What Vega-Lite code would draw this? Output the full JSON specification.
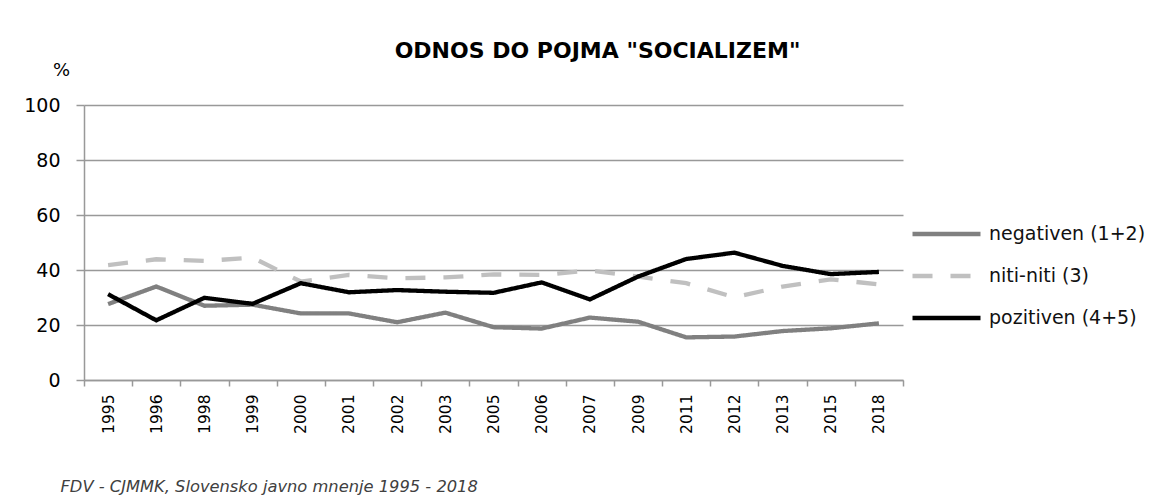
{
  "$schema": "https://vega.github.io/schema/vega-lite/v6.json",
  "autosize": {"type": "none"},
  "padding": {"left": 84, "top": 105, "right": 252, "bottom": 122},
  "width": 819,
  "height": 275,
  "background": "white",
  "title": {
    "text": "ODNOS DO POJMA \"SOCIALIZEM\"",
    "font": "DejaVu Sans",
    "fontSize": 22,
    "fontWeight": "bold",
    "color": "#000000",
    "anchor": "middle",
    "frame": "group",
    "dx": 104,
    "baseline": "alphabetic",
    "offset": -19
  },
  "data": {
    "values": [
      {"year": "1995", "series": "negativen (1+2)", "value": 27.6},
      {"year": "1996", "series": "negativen (1+2)", "value": 34.0},
      {"year": "1998", "series": "negativen (1+2)", "value": 27.0},
      {"year": "1999", "series": "negativen (1+2)", "value": 27.4},
      {"year": "2000", "series": "negativen (1+2)", "value": 24.2},
      {"year": "2001", "series": "negativen (1+2)", "value": 24.2},
      {"year": "2002", "series": "negativen (1+2)", "value": 21.0},
      {"year": "2003", "series": "negativen (1+2)", "value": 24.5},
      {"year": "2005", "series": "negativen (1+2)", "value": 19.2},
      {"year": "2006", "series": "negativen (1+2)", "value": 18.7},
      {"year": "2007", "series": "negativen (1+2)", "value": 22.7},
      {"year": "2009", "series": "negativen (1+2)", "value": 21.2},
      {"year": "2011", "series": "negativen (1+2)", "value": 15.5},
      {"year": "2012", "series": "negativen (1+2)", "value": 15.8},
      {"year": "2013", "series": "negativen (1+2)", "value": 17.8},
      {"year": "2015", "series": "negativen (1+2)", "value": 18.8},
      {"year": "2018", "series": "negativen (1+2)", "value": 20.6},
      {"year": "1995", "series": "niti-niti (3)", "value": 41.8},
      {"year": "1996", "series": "niti-niti (3)", "value": 43.9},
      {"year": "1998", "series": "niti-niti (3)", "value": 43.3},
      {"year": "1999", "series": "niti-niti (3)", "value": 44.5},
      {"year": "2000", "series": "niti-niti (3)", "value": 35.8},
      {"year": "2001", "series": "niti-niti (3)", "value": 38.2},
      {"year": "2002", "series": "niti-niti (3)", "value": 37.0},
      {"year": "2003", "series": "niti-niti (3)", "value": 37.3},
      {"year": "2005", "series": "niti-niti (3)", "value": 38.4},
      {"year": "2006", "series": "niti-niti (3)", "value": 38.2},
      {"year": "2007", "series": "niti-niti (3)", "value": 39.8},
      {"year": "2009", "series": "niti-niti (3)", "value": 37.6},
      {"year": "2011", "series": "niti-niti (3)", "value": 35.2},
      {"year": "2012", "series": "niti-niti (3)", "value": 30.1},
      {"year": "2013", "series": "niti-niti (3)", "value": 34.0},
      {"year": "2015", "series": "niti-niti (3)", "value": 36.6},
      {"year": "2018", "series": "niti-niti (3)", "value": 34.8},
      {"year": "1995", "series": "pozitiven (4+5)", "value": 31.2},
      {"year": "1996", "series": "pozitiven (4+5)", "value": 21.7},
      {"year": "1998", "series": "pozitiven (4+5)", "value": 29.9},
      {"year": "1999", "series": "pozitiven (4+5)", "value": 27.7},
      {"year": "2000", "series": "pozitiven (4+5)", "value": 35.2},
      {"year": "2001", "series": "pozitiven (4+5)", "value": 31.9},
      {"year": "2002", "series": "pozitiven (4+5)", "value": 32.7},
      {"year": "2003", "series": "pozitiven (4+5)", "value": 32.1},
      {"year": "2005", "series": "pozitiven (4+5)", "value": 31.7},
      {"year": "2006", "series": "pozitiven (4+5)", "value": 35.5},
      {"year": "2007", "series": "pozitiven (4+5)", "value": 29.3},
      {"year": "2009", "series": "pozitiven (4+5)", "value": 37.6},
      {"year": "2011", "series": "pozitiven (4+5)", "value": 44.0},
      {"year": "2012", "series": "pozitiven (4+5)", "value": 46.3},
      {"year": "2013", "series": "pozitiven (4+5)", "value": 41.5},
      {"year": "2015", "series": "pozitiven (4+5)", "value": 38.5},
      {"year": "2018", "series": "pozitiven (4+5)", "value": 39.3}
    ]
  },
  "mark": {"type": "line", "strokeWidth": 4.3, "strokeCap": "butt", "strokeJoin": "miter", "clip": false},
  "encoding": {
    "x": {
      "field": "year",
      "type": "nominal",
      "sort": null,
      "scale": {"type": "band", "paddingInner": 0, "paddingOuter": 0},
      "axis": {
        "title": "FDV - CJMMK, Slovensko javno mnenje 1995 - 2018",
        "titleFont": "DejaVu Sans",
        "titleFontSize": 16.3,
        "titleFontStyle": "italic",
        "titleFontWeight": "normal",
        "titleColor": "#404040",
        "titleX": -24,
        "titleY": 111,
        "titleAlign": "left",
        "titleAnchor": "start",
        "titleBaseline": "alphabetic",
        "labelAngle": -90,
        "labelAlign": "right",
        "labelBaseline": "middle",
        "labelFont": "DejaVu Sans",
        "labelFontSize": 15.5,
        "labelColor": "#000000",
        "labelPadding": 8,
        "tickBand": "extent",
        "tickSize": 6,
        "tickColor": "#999999",
        "tickWidth": 1.5,
        "domainColor": "#999999",
        "domainWidth": 1.5,
        "grid": false
      }
    },
    "y": {
      "field": "value",
      "type": "quantitative",
      "scale": {"domain": [0, 100], "nice": false, "zero": true},
      "axis": {
        "values": [0, 20, 40, 60, 80, 100],
        "title": "%",
        "titleAngle": 0,
        "titleX": -23,
        "titleY": -30,
        "titleAlign": "center",
        "titleBaseline": "alphabetic",
        "titleFont": "DejaVu Sans",
        "titleFontSize": 18,
        "titleFontWeight": "normal",
        "titleColor": "#000000",
        "labelFont": "DejaVu Sans",
        "labelFontSize": 19,
        "labelColor": "#000000",
        "labelPadding": 16,
        "tickSize": 8,
        "tickColor": "#999999",
        "tickWidth": 1.5,
        "domainColor": "#999999",
        "domainWidth": 1.5,
        "grid": true,
        "gridColor": "#999999",
        "gridWidth": 1.5
      }
    },
    "color": {
      "field": "series",
      "type": "nominal",
      "scale": {
        "domain": ["negativen (1+2)", "niti-niti (3)", "pozitiven (4+5)"],
        "range": ["#808080", "#c0c0c0", "#000000"]
      },
      "legend": {
        "title": null,
        "orient": "none",
        "legendX": 826,
        "legendY": 118,
        "padding": 0,
        "symbolType": "M-1,0H7",
        "symbolSize": 289,
        "symbolStrokeWidth": 4.5,
        "labelOffset": 57,
        "labelFont": "DejaVu Sans",
        "labelFontSize": 19,
        "labelColor": "#111111",
        "rowPadding": 21
      }
    },
    "strokeDash": {
      "field": "series",
      "type": "nominal",
      "scale": {
        "domain": ["negativen (1+2)", "niti-niti (3)", "pozitiven (4+5)"],
        "range": [[1, 0], [20, 18], [1, 0]]
      },
      "legend": null
    }
  },
  "config": {
    "view": {"stroke": null}
  }
}
